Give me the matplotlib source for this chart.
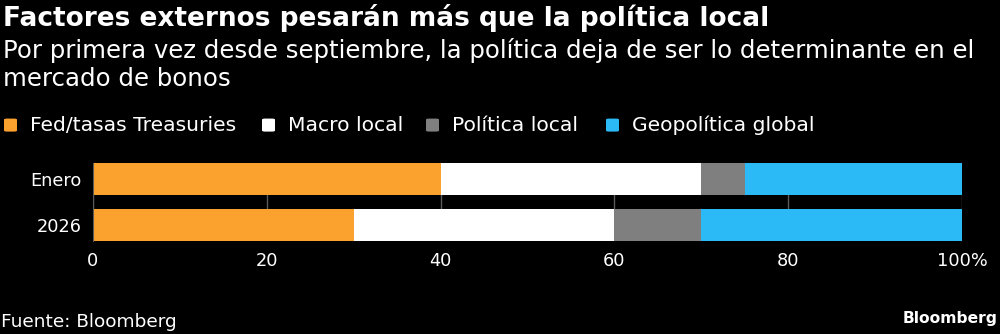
import matplotlib.pyplot as plt
from matplotlib.patches import FancyBboxPatch

categories = ['Enero', '2026']
series = ['Fed/tasas Treasuries', 'Macro local', 'Política local', 'Geopolítica global']
values = {
    'Fed/tasas Treasuries': [40, 30],
    'Macro local': [30, 30],
    'Política local': [5, 10],
    'Geopolítica global': [25, 30],
}
colors = ['#FBA12D', '#FFFFFF', '#7F7F7F', '#2BBAF6']
xticks = [0, 20, 40, 60, 80, 100]
xticklabels = ['0', '20', '40', '60', '80', '100%']

plt.rcParams['font.family'] = ['DejaVu Sans']

fig = plt.figure(figsize=(10, 3.34), dpi=100, facecolor='black')
ax = fig.add_axes([0.093, 0.2784, 0.869, 0.2335])
ax.set_facecolor('black')

# barras apiladas, Enero arriba
ypos = [1, 0]
left = [0, 0]
for name, col in zip(series, colors):
    vals = values[name]
    ax.barh(ypos, vals, left=left, height=0.7, color=col, zorder=3)
    left = [l + v for l, v in zip(left, vals)]

ax.set_xlim(0, 100)
ax.set_ylim(-0.35, 1.35)
ax.set_xticks(xticks)
ax.set_xticklabels(xticklabels)
ax.set_yticks(ypos)
ax.set_yticklabels(categories)
ax.grid(axis='x', color='#5a5a5a', linewidth=1, zorder=0)
ax.tick_params(colors='white', labelsize=12.8, length=0, pad=8)
for s in ['top', 'right', 'bottom']:
    ax.spines[s].set_visible(False)
ax.spines['left'].set_color('#5a5a5a')
ax.spines['left'].set_zorder(4)

# titulo y subtitulo
fig.text(0.003, 0.988, 'Factores externos pesarán más que la política local',
         color='white', fontsize=19.0, fontweight='bold', va='top', ha='left')
fig.text(0.003, 0.887, 'Por primera vez desde septiembre, la política deja de ser lo determinante en el\nmercado de bonos',
         color='white', fontsize=17.6, va='top', ha='left', linespacing=1.2)

# leyenda manual
lx = [0.004, 0.262, 0.426, 0.606]
for x, name, col in zip(lx, series, colors):
    sq = FancyBboxPatch((x, 0.606), 0.013, 0.039, boxstyle='round,pad=0,rounding_size=0.003',
                        transform=fig.transFigure, facecolor=col, edgecolor='none')
    fig.patches.append(sq)
    fig.text(x + 0.026, 0.625, name, color='white', fontsize=14.6, va='center', ha='left')

fig.text(0.001, 0.035, 'Fuente: Bloomberg', color='white', fontsize=13.3, va='center', ha='left')
fig.text(0.998, 0.045, 'Bloomberg', color='white', fontsize=11.2, fontweight='bold', va='center', ha='right')

fig.savefig('out.png', dpi=100, facecolor='black')
